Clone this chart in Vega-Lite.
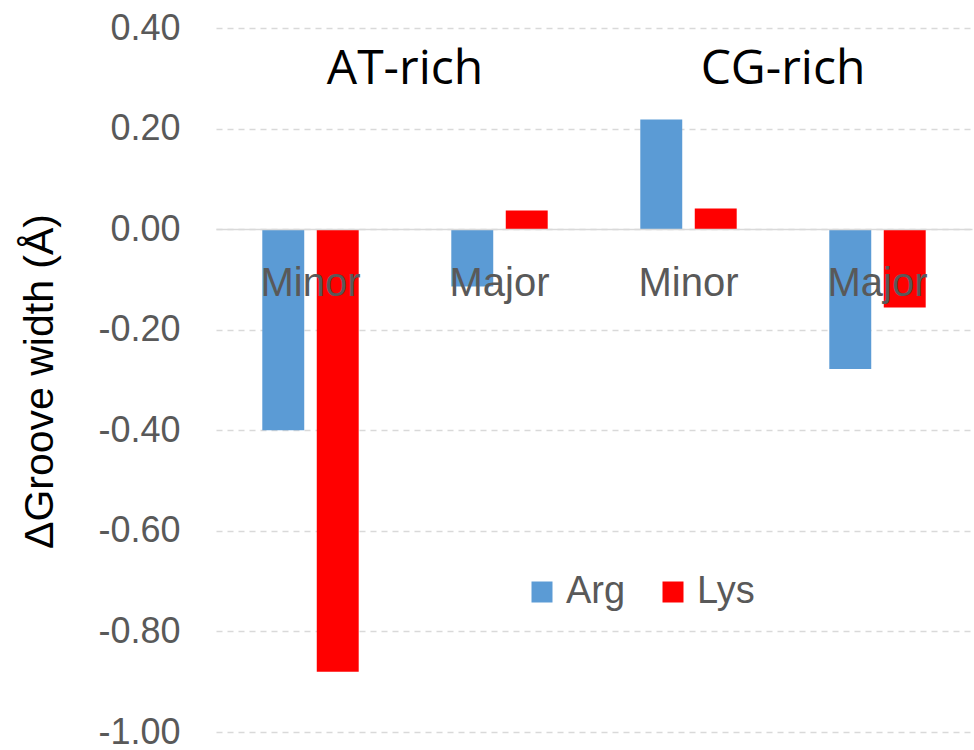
{
  "$schema": "https://vega.github.io/schema/vega-lite/v6.json",
  "autosize": {"type": "none"},
  "padding": {"left": 216, "top": 28, "right": 2, "bottom": 18},
  "width": 756,
  "height": 704,
  "background": "white",
  "config": {"view": {"stroke": null}, "font": "Liberation Sans"},
  "datasets": {
    "bars": [
      {"group": "AT-Minor", "ion": "Arg", "value": -0.4},
      {"group": "AT-Minor", "ion": "Lys", "value": -0.88},
      {"group": "AT-Major", "ion": "Arg", "value": -0.114},
      {"group": "AT-Major", "ion": "Lys", "value": 0.037},
      {"group": "CG-Minor", "ion": "Arg", "value": 0.218},
      {"group": "CG-Minor", "ion": "Lys", "value": 0.041},
      {"group": "CG-Major", "ion": "Arg", "value": -0.278},
      {"group": "CG-Major", "ion": "Lys", "value": -0.156}
    ],
    "titles": [
      {"group": "AT-Minor", "label": "AT-rich"},
      {"group": "CG-Minor", "label": "CG-rich"}
    ]
  },
  "layer": [
    {
      "data": {"name": "bars"},
      "mark": {"type": "bar"},
      "encoding": {
        "x": {
          "field": "group",
          "type": "nominal",
          "sort": ["AT-Minor", "AT-Major", "CG-Minor", "CG-Major"],
          "scale": {"paddingInner": 0, "paddingOuter": 0},
          "axis": {
            "title": null,
            "orient": "bottom",
            "offset": -503,
            "labelExpr": "split(datum.label, '-')[1]",
            "labelAngle": 0,
            "labelFontSize": 40,
            "labelColor": "#595959",
            "labelBaseline": "alphabetic",
            "labelPadding": 66,
            "ticks": false,
            "tickSize": 0,
            "domainColor": "#d9d9d9",
            "domainWidth": 1.5,
            "zindex": 1
          }
        },
        "xOffset": {
          "field": "ion",
          "type": "nominal",
          "sort": ["Arg", "Lys"],
          "scale": {"paddingInner": 0.23, "paddingOuter": 0.85}
        },
        "y": {
          "field": "value",
          "type": "quantitative",
          "scale": {"domain": [-1, 0.4], "nice": false, "zero": false},
          "axis": {
            "title": "ΔGroove width (Å)",
            "titleFontSize": 41,
            "titleFontWeight": "normal",
            "titleColor": "#000000",
            "titleAngle": 270,
            "titleX": -176,
            "titleY": 353,
            "titleAlign": "center",
            "titleBaseline": "middle",
            "values": [-1, -0.8, -0.6, -0.4, -0.2, 0, 0.2, 0.4],
            "labelExpr": "replace(format(datum.value, '.2f'), '−', '-')",
            "labelFontSize": 36,
            "labelColor": "#595959",
            "labelPadding": 36,
            "ticks": false,
            "tickSize": 0,
            "domain": false,
            "grid": true,
            "gridColor": "#d9d9d9",
            "gridDash": [6, 5],
            "gridWidth": 1.5
          }
        },
        "color": {
          "field": "ion",
          "type": "nominal",
          "sort": ["Arg", "Lys"],
          "scale": {"domain": ["Arg", "Lys"], "range": ["#5B9BD5", "#FF0000"]},
          "legend": {
            "title": null,
            "orient": "none",
            "legendX": 307,
            "legendY": 545,
            "direction": "horizontal",
            "symbolType": "square",
            "symbolSize": 441,
            "symbolStrokeWidth": 0,
            "labelFontSize": 38,
            "labelColor": "#595959",
            "labelOffset": 5,
            "columnPadding": 28
          }
        }
      }
    },
    {
      "data": {"name": "titles"},
      "mark": {"type": "text", "font": "Open Sans", "fontSize": 48, "color": "#000000", "baseline": "alphabetic", "align": "center"},
      "encoding": {
        "x": {"field": "group", "type": "nominal", "bandPosition": 1, "sort": ["AT-Minor", "AT-Major", "CG-Minor", "CG-Major"]},
        "y": {"datum": 0.288},
        "text": {"field": "label"}
      }
    }
  ]
}
